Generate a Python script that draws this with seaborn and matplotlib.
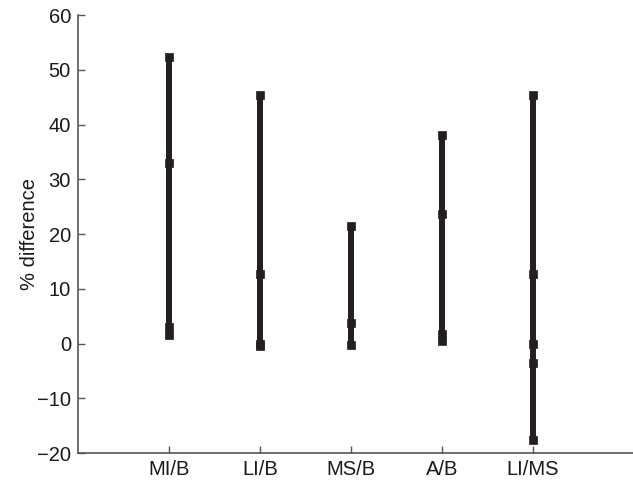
import matplotlib
matplotlib.use("Agg")
import matplotlib.pyplot as plt
import seaborn as sns
import pandas as pd

# Group comparisons and the percentage differences marked along each bar
categories = ["MI/B", "LI/B", "MS/B", "A/B", "LI/MS"]
mi_b = [52.3, 33.0, 3.0, 1.6]
li_b = [45.4, 12.7, 0.0, -0.4]
ms_b = [21.5, 3.7, -0.2]
a_b = [38.0, 23.7, 1.8, 0.4]
li_ms = [45.4, 12.7, 0.0, -3.5, -17.7]
series = [mi_b, li_b, ms_b, a_b, li_ms]

yticks = [-20, -10, 0, 10, 20, 30, 40, 50, 60]

rows = []
for i, (cat, vals) in enumerate(zip(categories, series)):
    for v in vals:
        rows.append({"category": cat, "pos": i + 1, "value": v})
df = pd.DataFrame(rows)

sns.set_theme(style="ticks")
plt.rcParams["font.family"] = ["Liberation Sans", "DejaVu Sans"]

fig = plt.figure(figsize=(6.33, 4.84), dpi=100)
ax = fig.add_axes([0.123, 0.064, 0.877, 0.905])

ink = "#231f20"
sns.lineplot(data=df, x="pos", y="value", units="category", estimator=None,
             sort=False, color=ink, lw=4.3, marker="s", markersize=6,
             markeredgewidth=0.5,
             markeredgecolor=ink, markerfacecolor=ink, ax=ax, legend=False)

ax.set_xlim(0, 6.1)
ax.set_ylim(-20, 60)
ax.set_xticks(range(1, len(categories) + 1))
ax.set_xticklabels(categories)
ax.set_yticks(yticks)
ax.set_yticklabels([f"\u2212{abs(t)}" if t < 0 else str(t) for t in yticks])
ax.set_xlabel("")
ax.set_ylabel("% difference", fontsize=14.5, color="#1a1a1a")
ax.yaxis.set_label_coords(-0.07, 0.5)

for side in ("top", "right"):
    ax.spines[side].set_visible(False)
for side in ("left", "bottom"):
    ax.spines[side].set_color("#555555")
    ax.spines[side].set_linewidth(1.2)
ax.tick_params(direction="in", length=5, width=1, color="#555555",
               labelsize=14.5, labelcolor="#1a1a1a", pad=5)
ax.grid(False)

fig.savefig("out.png", dpi=100)
